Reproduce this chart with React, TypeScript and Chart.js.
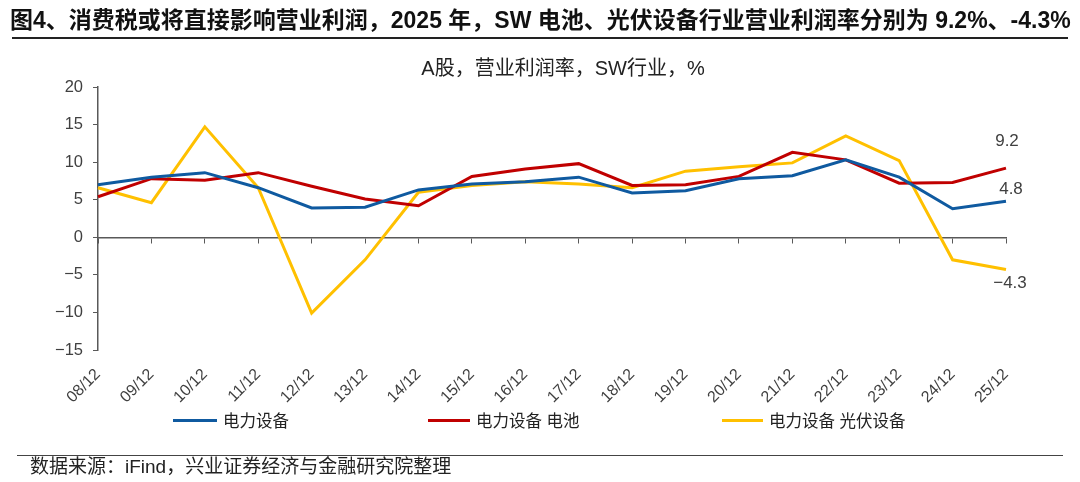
import React, { useEffect, useRef } from "react";
import { Chart, registerables } from "chart.js";

Chart.register(...registerables);

const labels = ["08/12", "09/12", "10/12", "11/12", "12/12", "13/12", "14/12", "15/12", "16/12", "17/12", "18/12", "19/12", "20/12", "21/12", "22/12", "23/12", "24/12", "25/12"];
const powerEquip = [7.0, 8.0, 8.6, 6.6, 3.9, 4.0, 6.3, 7.1, 7.4, 8.0, 5.9, 6.2, 7.8, 8.2, 10.3, 8.0, 3.8, 4.8];
const battery = [5.4, 7.8, 7.6, 8.6, 6.8, 5.1, 4.2, 8.1, 9.1, 9.8, 6.9, 7.0, 8.1, 11.3, 10.3, 7.2, 7.3, 9.2];
const pv = [6.6, 4.6, 14.7, 6.6, -10.1, -3.0, 6.0, 6.9, 7.4, 7.1, 6.6, 8.8, 9.4, 9.9, 13.5, 10.2, -3.0, -4.3];
const seriesNames = ["电力设备", "电力设备 电池", "电力设备 光伏设备"];
const seriesColors = ["#0F5AA0", "#C00000", "#FFC000"];
const yTicks = { min: -15, max: 20, step: 5 };

const FONT = '"Liberation Sans", Arial, "Noto Sans CJK SC", sans-serif';
const TEXT = "#404040";
const AXIS = "#595959";

const fmt = (v: number) => (v < 0 ? "\u2212" + Math.abs(v) : String(v));

const endLabels = {
  id: "endLabels",
  afterDatasetsDraw(chart: any) {
    const ctx = chart.ctx;
    const offsets = [
      { dx: 5, dy: -12 },
      { dx: 1, dy: -27 },
      { dx: 4, dy: 14 },
    ];
    ctx.save();
    ctx.font = "17px " + FONT;
    ctx.fillStyle = TEXT;
    ctx.textAlign = "center";
    ctx.textBaseline = "middle";
    chart.data.datasets.forEach((ds: any, i: number) => {
      const meta = chart.getDatasetMeta(i);
      const last = meta.data[meta.data.length - 1];
      const v = ds.data[ds.data.length - 1];
      ctx.fillText(fmt(v), last.x + offsets[i].dx, last.y + offsets[i].dy);
    });
    ctx.restore();
  },
};

export default function App() {
  const ref = useRef<HTMLCanvasElement | null>(null);

  useEffect(() => {
    if (!ref.current) return;
    const mk = (name: string, data: number[], color: string) => ({
      label: name,
      data,
      borderColor: color,
      backgroundColor: color,
      borderWidth: 3,
      pointRadius: 0,
      tension: 0,
      xAxisID: "x",
      yAxisID: "y",
    });
    const chart = new Chart(ref.current, {
      type: "line",
      data: {
        labels,
        datasets: [
          mk(seriesNames[0], powerEquip, seriesColors[0]),
          mk(seriesNames[1], battery, seriesColors[1]),
          mk(seriesNames[2], pv, seriesColors[2]),
        ],
      },
      options: {
        animation: false,
        responsive: false,
        maintainAspectRatio: false,
        layout: { padding: { top: 87, right: 74, bottom: 0, left: 0 } },
        plugins: { legend: { display: false }, tooltip: { enabled: false }, title: { display: false } },
        scales: {
          x: {
            type: "category",
            position: "bottom",
            offset: false,
            grid: { display: false, drawTicks: false },
            border: { display: false },
            ticks: {
              minRotation: 45,
              maxRotation: 45,
              autoSkip: false,
              padding: 15,
              color: TEXT,
              font: { family: FONT, size: 16 },
            },
            afterFit: (s: any) => {
              s.height = 132;
            },
          },
          x0: {
            type: "category",
            position: { y: 0 } as any,
            offset: false,
            grid: { drawOnChartArea: false, drawTicks: true, tickLength: 5, color: AXIS, lineWidth: 1 },
            border: { display: true, color: AXIS, width: 1.5 },
            ticks: { display: false },
          },
          y: {
            type: "linear",
            position: "left",
            min: yTicks.min,
            max: yTicks.max,
            grid: { drawOnChartArea: false, drawTicks: true, tickLength: 5, color: AXIS },
            border: { display: true, color: AXIS, width: 1.5 },
            ticks: {
              stepSize: yTicks.step,
              padding: 10,
              color: TEXT,
              font: { family: FONT, size: 16.5 },
              callback: (v: any) => fmt(Number(v)),
            },
            afterFit: (s: any) => {
              s.width = 98;
            },
          },
        },
      },
      plugins: [endLabels],
    });
    return () => chart.destroy();
  }, []);

  const legendItems = [
    { line: 173, text: 223 },
    { line: 428, text: 476 },
    { line: 722, text: 769 },
  ];

  return (
    <div style={{ position: "absolute", left: 0, top: 0, width: 1080, height: 482, background: "#fff", fontFamily: FONT, overflow: "hidden" }}>
      <canvas ref={ref} width={1080} height={482} style={{ position: "absolute", left: 0, top: 0, width: 1080, height: 482 }} />
      <div style={{ position: "absolute", left: 10, top: 5, width: 1062, fontSize: 23, fontWeight: "bold", color: "#111", whiteSpace: "nowrap", lineHeight: "30px" }}>
        图4、消费税或将直接影响营业利润，2025 年，SW 电池、光伏设备行业营业利润率分别为 9.2%、-4.3%
      </div>
      <div style={{ position: "absolute", left: 12, top: 37, width: 1056, height: 2, background: "#222" }} />
      <div style={{ position: "absolute", left: 0, top: 56, width: 1126, textAlign: "center", fontSize: 20, color: "#222", lineHeight: "24px", whiteSpace: "nowrap" }}>
        A股，营业利润率，SW行业，%
      </div>
      {legendItems.map((it, i) => (
        <React.Fragment key={i}>
          <div style={{ position: "absolute", left: it.line, top: 419, width: it.text - it.line - 6, height: 3, background: seriesColors[i] }} />
          <div style={{ position: "absolute", left: it.text, top: 409, fontSize: 16.5, color: "#222", lineHeight: "24px", whiteSpace: "nowrap" }}>
            {seriesNames[i]}
          </div>
        </React.Fragment>
      ))}
      <div style={{ position: "absolute", left: 17, top: 455, width: 1046, height: 1, background: "#444" }} />
      <div style={{ position: "absolute", left: 30, top: 456, fontSize: 19, color: "#222", lineHeight: "22px", whiteSpace: "nowrap" }}>
        数据来源：iFind，兴业证券经济与金融研究院整理
      </div>
    </div>
  );
}
